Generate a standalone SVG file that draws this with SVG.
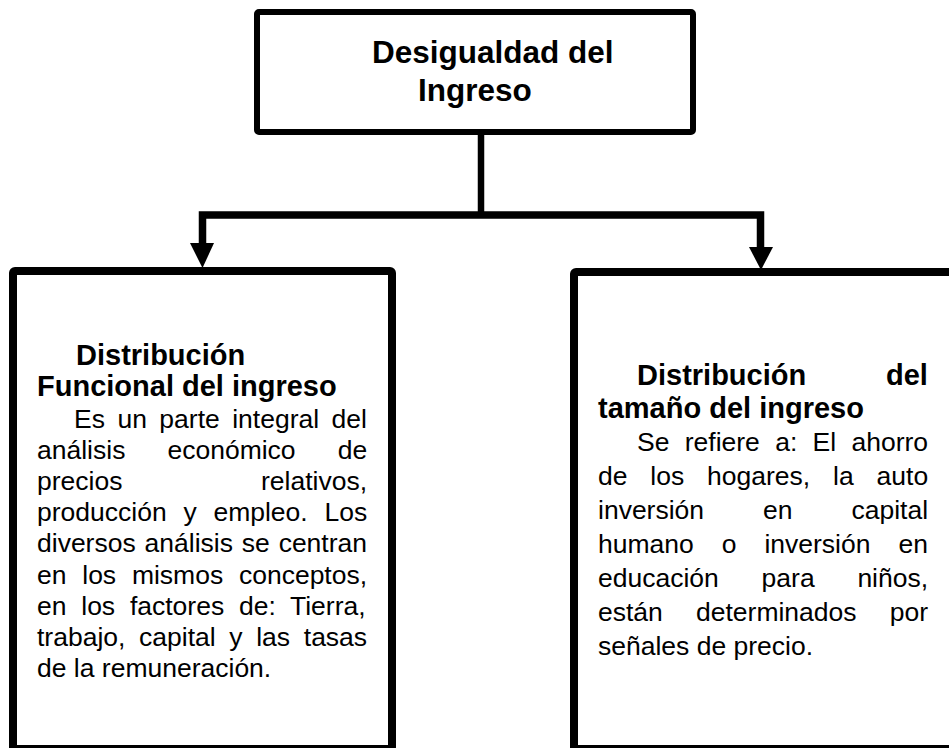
<svg xmlns="http://www.w3.org/2000/svg" width="949" height="748" viewBox="0 0 949 748">
<style>
.box{fill:#fff;stroke:#000}
.title{font-family:"Liberation Sans",Arial,sans-serif;font-weight:bold;font-size:31.5px;fill:#000}
.head{font-family:"Liberation Sans",Arial,sans-serif;font-weight:bold;font-size:29px;fill:#000}
.body{font-family:"Liberation Sans",Arial,sans-serif;font-size:26.5px;fill:#000}
.conn{fill:none;stroke:#000;stroke-linejoin:miter}
</style>
<rect width="949" height="748" fill="#fff"/>
<g id="connectors">
<line class="conn" x1="481" y1="132" x2="481" y2="215" stroke-width="6.5"/>
<polyline class="conn" points="202.5,244 202.5,215 760.5,215 760.5,248" stroke-width="7.5"/>
<path d="M190,243 L214,243 L202.5,268 Z" fill="#000"/>
<path d="M749,247 L773,247 L761,270 Z" fill="#000"/>
</g>
<g id="node-top">
<rect class="box" x="257" y="12" width="436" height="120" rx="2" stroke-width="6"/>
<text class="title" x="372" y="63">Desigualdad del</text>
<text class="title" x="418" y="101">Ingreso</text>
</g>
<g id="node-left">
<rect class="box" x="13" y="271" width="379" height="478" rx="2" stroke-width="8"/>
<text class="head" x="76" y="365">Distribución</text>
<text class="head" x="37" y="396">Funcional del ingreso</text>
<text class="body" x="74" y="427.5" word-spacing="5.1">Es un parte integral del</text>
<text class="body" x="37" y="458.5" word-spacing="34.7">análisis económico de</text>
<text class="body" x="37" y="490" word-spacing="131.2">precios relativos,</text>
<text class="body" x="37" y="521" word-spacing="9.4">producción y empleo. Los</text>
<text class="body" x="37" y="552" word-spacing="1.5">diversos análisis se centran</text>
<text class="body" x="37" y="583.5" word-spacing="8.4">en los mismos conceptos,</text>
<text class="body" x="37" y="614.5" word-spacing="7.4">en los factores de: Tierra,</text>
<text class="body" x="37" y="646" word-spacing="6.3">trabajo, capital y las tasas</text>
<text class="body" x="37" y="677">de la remuneración.</text>
</g>
<g id="node-right">
<rect class="box" x="574" y="272" width="380" height="477" rx="2" stroke-width="8"/>
<text class="head" x="637" y="385" word-spacing="71.8">Distribución del</text>
<text class="head" x="598" y="418">tamaño del ingreso</text>
<text class="body" x="637" y="451" word-spacing="7.95">Se refiere a: El ahorro</text>
<text class="body" x="598" y="485" word-spacing="15.5">de los hogares, la auto</text>
<text class="body" x="598" y="519" word-spacing="51.6">inversión en capital</text>
<text class="body" x="598" y="553" word-spacing="20.6">humano o inversión en</text>
<text class="body" x="598" y="587" word-spacing="35.4">educación para niños,</text>
<text class="body" x="598" y="621" word-spacing="25.8">están determinados por</text>
<text class="body" x="598" y="655">señales de precio.</text>
</g>
</svg>
